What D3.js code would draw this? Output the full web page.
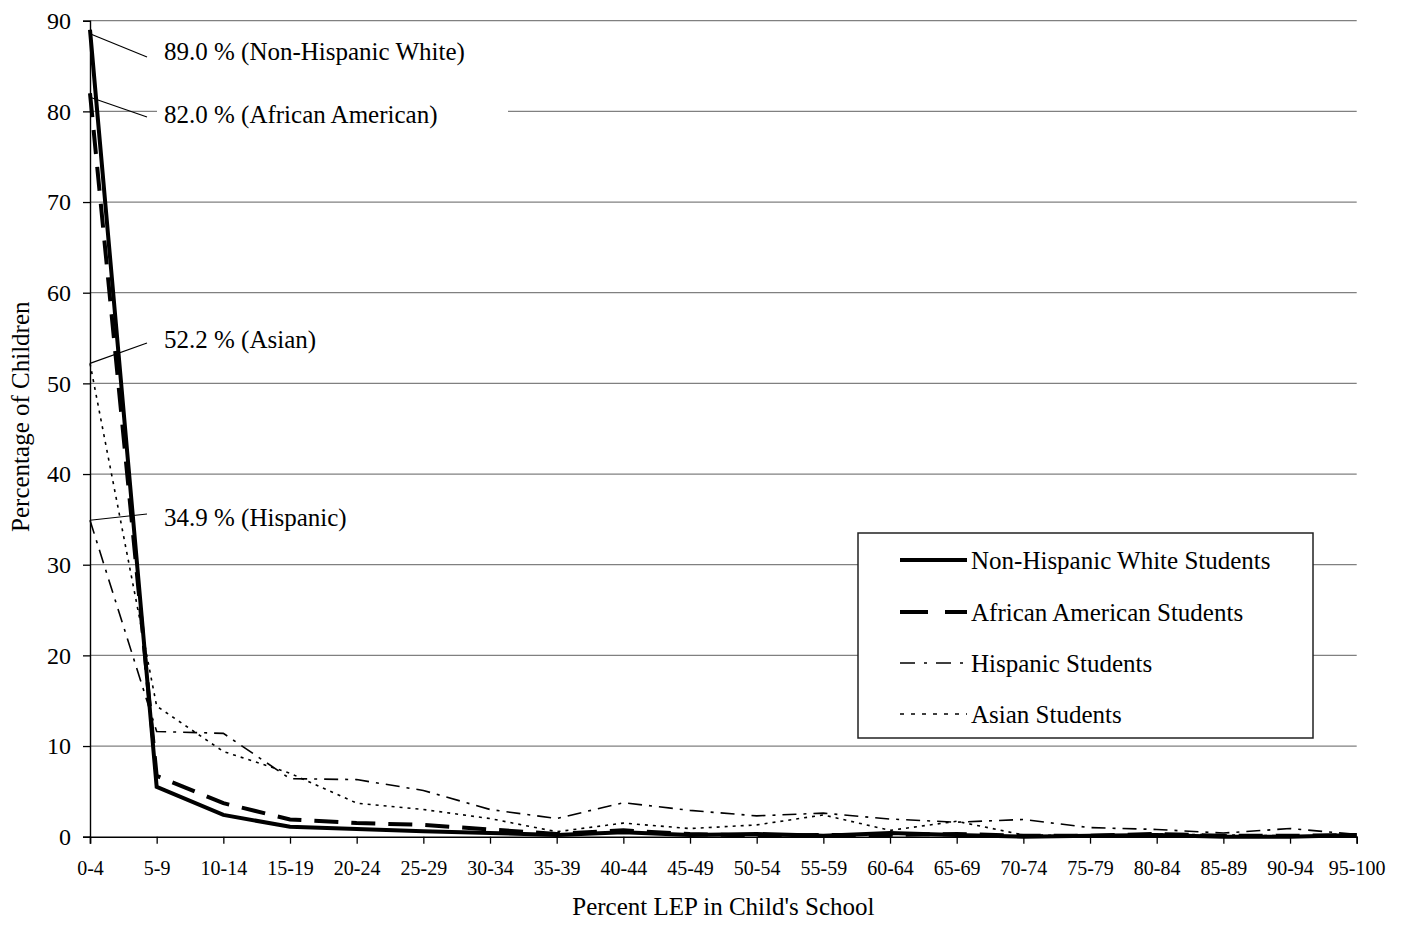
<!DOCTYPE html>
<html>
<head>
<meta charset="utf-8">
<script src="https://cdn.jsdelivr.net/npm/d3@7"></script>
<style>
  html, body { margin: 0; padding: 0; background: #fff; }
  svg { display: block; }
  text { font-family: "Liberation Serif", "Times New Roman", Times, serif; fill: #000; }
</style>
</head>
<body>
<svg id="chart" width="1406" height="925"></svg>
<script>
// ---------------- DATA ----------------
const categories = ["0-4","5-9","10-14","15-19","20-24","25-29","30-34","35-39","40-44","45-49",
                    "50-54","55-59","60-64","65-69","70-74","75-79","80-84","85-89","90-94","95-100"];
const seriesNames = ["Non-Hispanic White Students","African American Students","Hispanic Students","Asian Students"];
const whiteValues    = [89.0, 5.5, 2.4, 1.1, 0.85, 0.6, 0.4, 0.2, 0.5, 0.2, 0.3, 0.1, 0.4, 0.2, 0.0, 0.1, 0.2, 0.0, 0.0, 0.2];
const africanValues  = [82.0, 6.7, 3.7, 1.9, 1.5, 1.3, 0.8, 0.3, 0.7, 0.3, 0.1, 0.2, 0.2, 0.3, 0.1, 0.1, 0.3, 0.1, 0.1, 0.2];
const hispanicValues = [34.9, 11.6, 11.4, 6.4, 6.3, 5.1, 3.0, 2.0, 3.75, 2.9, 2.3, 2.6, 1.95, 1.6, 1.9, 1.0, 0.8, 0.4, 0.9, 0.25];
const asianValues    = [52.2, 14.4, 9.4, 7.0, 3.7, 3.0, 2.0, 0.55, 1.5, 0.9, 1.3, 2.4, 0.7, 1.7, 0.2, 0.1, 0.3, 0.2, 0.1, 0.1];
const yTicks = [0, 10, 20, 30, 40, 50, 60, 70, 80, 90];
const annotationValues = [89.0, 82.0, 52.2, 34.9];
const annotationLabels = ["89.0 % (Non-Hispanic White)", "82.0 % (African American)", "52.2 % (Asian)", "34.9 % (Hispanic)"];
const xTitle = "Percent LEP in Child's School";
const yTitle = "Percentage of Children";

// ---------------- LAYOUT ----------------
const plotLeft = 90, plotRight = 1356.7, plotTop = 20.7, plotBottom = 836.7;
const svg = d3.select("#chart");
const x = d3.scalePoint().domain(categories).range([plotLeft, plotRight]).padding(0);
const y = d3.scaleLinear().domain([0, 90]).range([plotBottom, plotTop]);

// gridlines
svg.append("g").selectAll("line")
  .data(yTicks.filter(t => t > 0))
  .join("line")
  .attr("x1", plotLeft).attr("x2", plotRight)
  .attr("y1", d => y(d)).attr("y2", d => y(d))
  .attr("stroke", "#808080").attr("stroke-width", 1.2);

// annotation label backgrounds (cover gridlines)
const annoBaselines = [60, 123, 348, 526];
const annoLeaderEnd = [57, 117, 343, 514];
svg.append("g").selectAll("rect")
  .data(annotationValues)
  .join("rect")
  .attr("x", 157).attr("width", 351)
  .attr("y", (d, i) => annoBaselines[i] - 25).attr("height", 33)
  .attr("fill", "#fff");

// series
const series = [
  { name: seriesNames[0], values: whiteValues,    width: 4,   dash: null },
  { name: seriesNames[1], values: africanValues,  width: 4,   dash: "24,13" },
  { name: seriesNames[2], values: hispanicValues, width: 1.6, dash: "14,7,3,7" },
  { name: seriesNames[3], values: asianValues,    width: 1.6, dash: "3,5" }
];
const line = d3.line()
  .x((d, i) => x(categories[i]))
  .y(d => y(d));

const plotG = svg.append("g");
plotG.selectAll("path")
  .data(series)
  .join("path")
  .attr("d", d => line(d.values))
  .attr("fill", "none")
  .attr("stroke", "#000")
  .attr("stroke-width", d => d.width)
  .attr("stroke-linejoin", "miter")
  .attr("stroke-dasharray", d => d.dash);

// axes
const yAxis = d3.axisLeft(y).tickValues(yTicks).tickSize(7).tickPadding(12).tickFormat(d3.format("d"));
const gy = svg.append("g").attr("transform", `translate(${plotLeft},0)`).call(yAxis);
gy.select(".domain").attr("stroke", "#000").attr("stroke-width", 1.4);
gy.selectAll(".tick line").attr("stroke", "#000").attr("stroke-width", 1.3);
gy.selectAll(".tick text").attr("font-size", 24).attr("font-family", "Liberation Serif, Times New Roman, serif");

const xAxis = d3.axisBottom(x).tickSize(7).tickPadding(10);
const gx = svg.append("g").attr("transform", `translate(0,${plotBottom})`).call(xAxis);
gx.select(".domain").attr("stroke", "#000").attr("stroke-width", 1.6);
gx.selectAll(".tick line").attr("stroke", "#000").attr("stroke-width", 1.3);
gx.selectAll(".tick text").attr("font-size", 20).attr("font-family", "Liberation Serif, Times New Roman, serif")
  .attr("y", 0).attr("dy", 38.3);

// axis titles
svg.append("text")
  .attr("x", (plotLeft + plotRight) / 2).attr("y", 915)
  .attr("text-anchor", "middle").attr("font-size", 25)
  .text(xTitle);
svg.append("text")
  .attr("transform", `translate(29,${(plotTop + plotBottom) / 2 - 12}) rotate(-90)`)
  .attr("text-anchor", "middle").attr("font-size", 25)
  .text(yTitle);

// annotations
const annoG = svg.append("g");
annoG.selectAll("line")
  .data(annotationValues)
  .join("line")
  .attr("x1", plotLeft).attr("y1", d => y(d) + (d > 80 ? 4 : 0))
  .attr("x2", 147).attr("y2", (d, i) => annoLeaderEnd[i])
  .attr("stroke", "#000").attr("stroke-width", 1.2);
annoG.selectAll("text")
  .data(annotationLabels)
  .join("text")
  .attr("x", 164).attr("y", (d, i) => annoBaselines[i])
  .attr("font-size", 25)
  .text(d => d);

// legend
const lg = svg.append("g");
lg.append("rect")
  .attr("x", 858).attr("y", 533).attr("width", 455).attr("height", 205)
  .attr("fill", "#fff").attr("stroke", "#222").attr("stroke-width", 1.5);
const rowY = [560, 612, 663, 714];
const items = lg.selectAll("g.item").data(series).join("g").attr("class", "item")
  .attr("transform", (d, i) => `translate(0,${rowY[i]})`);
items.append("line")
  .attr("x1", 900).attr("x2", 967).attr("y1", 0).attr("y2", 0)
  .attr("stroke", "#000")
  .attr("stroke-width", d => d.width)
  .attr("stroke-dasharray", (d, i) => [null, "28,17", "15,9,3,9", "4,7"][i]);
items.append("text")
  .attr("x", 971).attr("y", 8.5)
  .attr("font-size", 25)
  .text(d => d.name);
</script>
</body>
</html>
